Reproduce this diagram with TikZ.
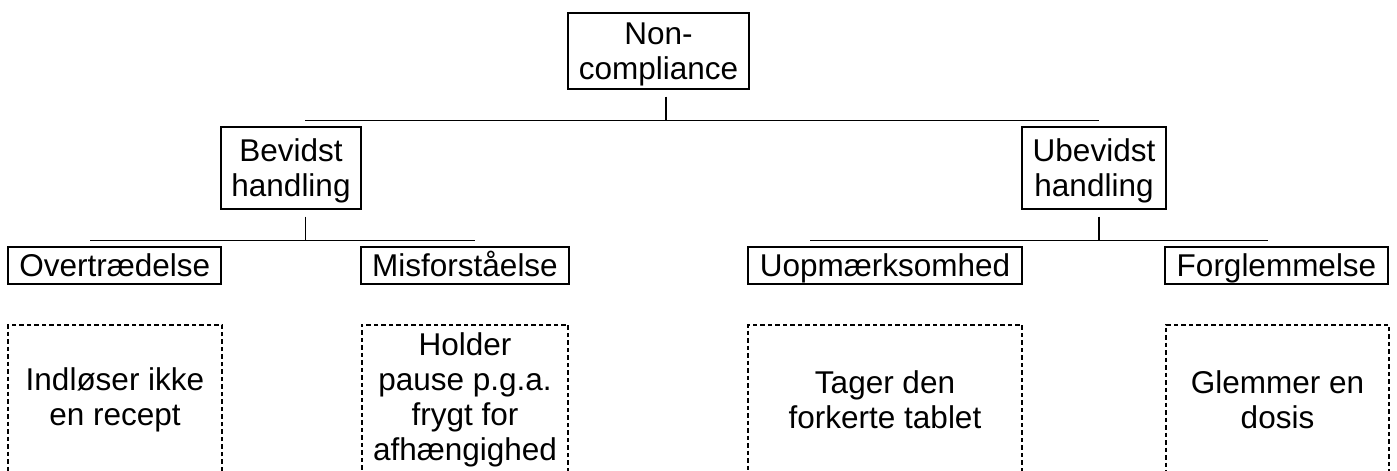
\documentclass[tikz,border=0pt]{standalone}
\usepackage{fontspec}
\setmainfont{Liberation Sans}
\begin{document}
\begin{tikzpicture}[x=1pt,y=-1pt,
  box/.style={draw,line width=2pt,inner sep=0pt,align=center,text depth=0pt,font=\fontsize{31.5}{35}\selectfont},
  onebox/.style={box,text height=22.6pt,minimum height=37.6pt},
  leafbox/.style={draw,line width=2pt,dash pattern=on 4.5pt off 3pt,inner sep=0pt,align=center,
    minimum height=151pt,font=\fontsize{31.5}{35}\selectfont},
  conn/.style={line width=1.3pt}]
\useasboundingbox (0,0) rectangle (1397,471);
\clip (0,0) rectangle (1397,471);
% level 0
\node[box,minimum width=181pt,minimum height=75.7pt] (root) at (658.5,51.2) {Non-\\compliance};
% level 1
\node[box,minimum width=140pt,minimum height=82.3pt] (bev) at (291,167.9) {Bevidst\\handling};
\node[box,minimum width=144pt,minimum height=82.3pt] (ubev) at (1094,167.9) {Ubevidst\\handling};
% level 2
\node[onebox,minimum width=212.7pt] (over) at (114.7,265.5) {Overtrædelse};
\node[onebox,minimum width=208pt] (misf) at (465,265.5) {Misforståelse};
\node[onebox,minimum width=274pt] (uop) at (885,265.5) {Uopmærksomhed};
\node[onebox,minimum width=223pt] (forg) at (1276.5,265.5) {Forglemmelse};
% examples
\node[leafbox,minimum width=213.4pt] (ex1) at (115,400) {Indløser ikke\\en recept};
\node[leafbox,minimum width=206.6pt] (ex2) at (465,400) {Holder\\pause p.g.a.\\frygt for\\afhængighed};
\node[leafbox,minimum width=274pt] (ex3) at (885,400) {Tager den\\forkerte tablet};
\node[leafbox,minimum width=223pt] (ex4) at (1277.5,400) {Glemmer en\\dosis};
% connector coordinates
\coordinate (r0) at (666,96.7);
\coordinate (r1) at (666,120.5);
\coordinate (hA) at (305,120.5);
\coordinate (hB) at (1099,120.5);
\coordinate (b0) at (305.7,216.7);
\coordinate (b1) at (305.7,240.3);
\coordinate (bA) at (90,240.3);
\coordinate (bB) at (475,240.3);
\coordinate (u0) at (1099,216.7);
\coordinate (u1) at (1099,240.3);
\coordinate (uA) at (810,240.3);
\coordinate (uB) at (1268,240.3);
\draw[conn] (r0) -- (r1);
\draw[conn] (hA) -- (hB);
\draw[conn] (b0) -- (b1);
\draw[conn] (bA) -- (bB);
\draw[conn] (u0) -- (u1);
\draw[conn] (uA) -- (uB);
\end{tikzpicture}
\end{document}
